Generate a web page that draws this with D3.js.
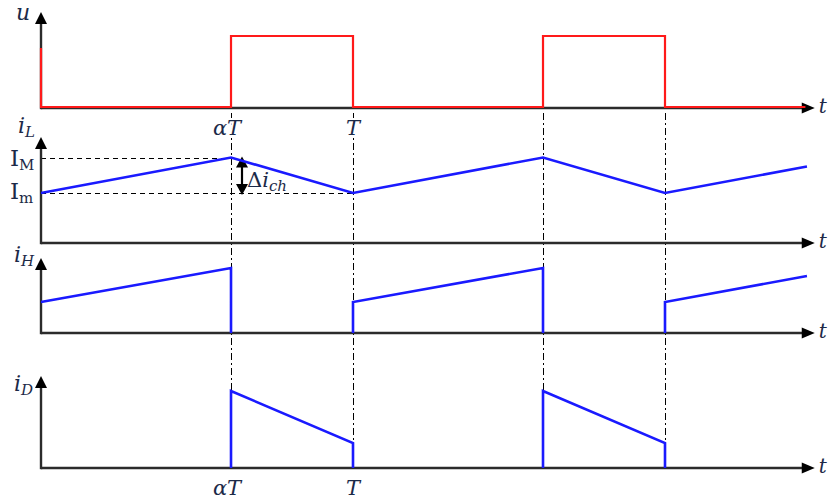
<!DOCTYPE html>
<html>
<head>
<meta charset="utf-8">
<script src="https://cdn.jsdelivr.net/npm/d3@7"></script>
<style>
  body { margin: 0; background: #fff; }
  text { font-family: "DejaVu Serif", "Liberation Serif", serif; fill: #1c2a48; }
</style>
</head>
<body>
<svg id="chart" width="832" height="500"></svg>
<script>
// Time is expressed in units of the switching period T
const alpha = 0.609;
const tEnd = 2.455;
const tAxisEnd = 2.48;
const switchTimes = [alpha, 1, 1 + alpha, 2];

// gate voltage u
const uTimes  = [0, 0, alpha, alpha, 1, 1, 1 + alpha, 1 + alpha, 2, 2, 2.45];
const uValues = [0.59, 0, 0, 0.71, 0.71, 0, 0, 0.71, 0.71, 0, 0];

// inductor current iL between Im and IM
const IM = 0.855;
const Im = 0.50;
const iLTimes  = [0, alpha, 1, 1 + alpha, 2, tEnd];
const iLValues = [Im, IM, Im, IM, Im, 0.765];

// switch current iH (NaN splits the trace)
const iHTimes  = [0, alpha, alpha, NaN, 1, 1, 1 + alpha, 1 + alpha, NaN, 2, 2, tEnd];
const iHValues = [0.31, 0.65, 0, NaN, 0, 0.31, 0.65, 0, NaN, 0, 0.31, 0.57];

// diode current iD
const iDTimes  = [alpha, alpha, 1, 1, NaN, 1 + alpha, 1 + alpha, 2, 2];
const iDValues = [0, 0.77, 0.25, 0, NaN, 0, 0.77, 0.25, 0];

const svg = d3.select("#chart");
const x = d3.scaleLinear().domain([0, 1]).range([41, 353]);
const crisp = v => Math.round(v) + 0.5;

const panels = [
  { base: 108, top: 12 },
  { base: 243, top: 137 },
  { base: 333, top: 258 },
  { base: 468, top: 376 }
];
panels.forEach(p => {
  p.y = d3.scaleLinear().domain([0, 1]).range([p.base, p.base - 100]);
});

const axisColor = "#2b2b2b";

// dash-dot guides at the switching instants
svg.append("g").selectAll("line").data(switchTimes).join("line")
  .attr("x1", d => crisp(x(d))).attr("x2", d => crisp(x(d)))
  .attr("y1", 113).attr("y2", 468)
  .attr("stroke", "#000").attr("stroke-width", 1)
  .attr("stroke-dasharray", "7,3,2,3");

// dashed reference levels IM and Im
const pL = panels[1];
svg.append("line")
  .attr("x1", x(0)).attr("x2", x(alpha))
  .attr("y1", crisp(pL.y(IM))).attr("y2", crisp(pL.y(IM)))
  .attr("stroke", "#000").attr("stroke-width", 1).attr("stroke-dasharray", "5,4");
svg.append("line")
  .attr("x1", x(0)).attr("x2", x(1))
  .attr("y1", crisp(pL.y(Im))).attr("y2", crisp(pL.y(Im)))
  .attr("stroke", "#000").attr("stroke-width", 1).attr("stroke-dasharray", "5,4");

// axes with arrowheads
panels.forEach(p => {
  const g = svg.append("g");
  const x0 = x(0), xe = x(tAxisEnd);
  g.append("line").attr("x1", x0).attr("x2", xe - 10)
    .attr("y1", p.base).attr("y2", p.base)
    .attr("stroke", axisColor).attr("stroke-width", 2.4);
  g.append("line").attr("x1", x0).attr("x2", x0)
    .attr("y1", p.base + 1.2).attr("y2", p.top + 9)
    .attr("stroke", axisColor).attr("stroke-width", 2.4);
  g.append("path")
    .attr("d", `M${xe},${p.base} L${xe - 13},${p.base - 5.5} L${xe - 13},${p.base + 5.5} Z`)
    .attr("fill", "#000");
  g.append("path")
    .attr("d", `M${x0},${p.top} L${x0 - 6},${p.top + 12} L${x0 + 6},${p.top + 12} Z`)
    .attr("fill", "#000");
  g.append("text").attr("x", xe + 4).attr("y", p.base + 5)
    .attr("font-style", "italic").attr("font-size", 20).text("t");
});

// double arrow marking the ripple Δi_ch
const ax = 242;
svg.append("line").attr("x1", ax).attr("x2", ax)
  .attr("y1", pL.y(IM) + 8).attr("y2", pL.y(Im) - 8)
  .attr("stroke", "#000").attr("stroke-width", 2.2);
svg.append("path")
  .attr("d", `M${ax},${pL.y(IM) - 1} L${ax - 6},${pL.y(IM) + 10} L${ax + 6},${pL.y(IM) + 10} Z`)
  .attr("fill", "#000");
svg.append("path")
  .attr("d", `M${ax},${pL.y(Im) + 2} L${ax - 6},${pL.y(Im) - 9} L${ax + 6},${pL.y(Im) - 9} Z`)
  .attr("fill", "#000");

// waveforms
function trace(times, values, panel, color, width) {
  const pts = times.map((t, i) => [t, values[i]]);
  const line = d3.line()
    .defined(d => !isNaN(d[0]) && !isNaN(d[1]))
    .x(d => x(d[0])).y(d => panel.y(d[1]));
  svg.append("path").datum(pts)
    .attr("d", line).attr("fill", "none")
    .attr("stroke", color).attr("stroke-width", width)
    .attr("stroke-linejoin", "miter");
}
trace(uTimes, uValues, { y: v => panels[0].y(v) - 1 }, "#ff1a1a", 2.2);
trace(iLTimes, iLValues, panels[1], "#1a1aff", 2.6);
trace(iHTimes, iHValues, panels[2], "#1a1aff", 2.6);
trace(iDTimes, iDValues, panels[3], "#1a1aff", 2.6);

// labels
function varLabel(xp, yp, main, sub, italicMain, italicSub, size) {
  const t = svg.append("text").attr("x", xp).attr("y", yp).attr("font-size", size || 22);
  t.append("tspan").attr("font-style", italicMain ? "italic" : "normal").text(main);
  if (sub) {
    t.append("tspan").attr("font-style", italicSub ? "italic" : "normal")
      .attr("font-size", 15).attr("dy", 4).text(sub);
  }
  return t;
}
varLabel(16, 20, "u", null, true);
varLabel(18, 133, "i", "L", true, true);
varLabel(14, 262, "i", "H", true, true);
varLabel(14, 391, "i", "D", true, true);
varLabel(10, pL.y(IM) + 8, "I", "M", false, false, 23);
varLabel(10, pL.y(Im) + 6, "I", "m", false, false, 23);

const dl = svg.append("text").attr("x", 247).attr("y", 187).attr("font-size", 21);
dl.append("tspan").text("Δ");
dl.append("tspan").attr("font-style", "italic").text("i");
dl.append("tspan").attr("font-style", "italic").attr("font-size", 15).attr("dy", 4).text("ch");

const tickLabels = [
  { t: alpha, text: "αT" },
  { t: 1, text: "T" }
];
[135, 495].forEach(yb => {
  svg.append("g").selectAll("text").data(tickLabels).join("text")
    .attr("x", d => x(d.t) - (d.t === 1 ? 0 : 4)).attr("y", yb)
    .attr("text-anchor", "middle").attr("font-style", "italic").attr("font-size", 21)
    .attr("stroke", "#fff").attr("stroke-width", 4).attr("paint-order", "stroke")
    .text(d => d.text);
});
</script>
</body>
</html>
